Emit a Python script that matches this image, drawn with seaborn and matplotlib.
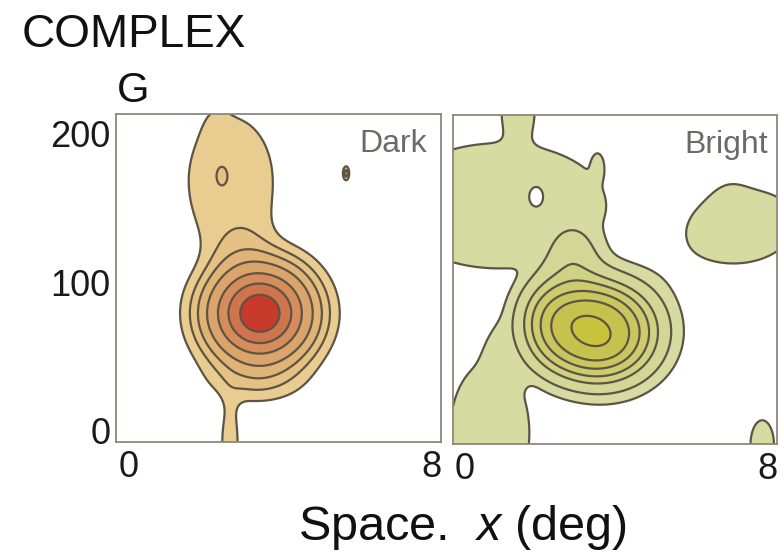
import numpy as np
import matplotlib
matplotlib.use("Agg")
import matplotlib.pyplot as plt
import seaborn as sns

sns.set_theme(style="white")
plt.rcParams["font.family"] = ["Liberation Sans", "DejaVu Sans"]
plt.rcParams["mathtext.fontset"] = "custom"
plt.rcParams["mathtext.it"] = "Liberation Sans:italic"
plt.rcParams["mathtext.rm"] = "Liberation Sans"

# Response components of each space-time map:
# centre (deg, ms), spread (deg, ms), tilt (deg), profile exponent, amplitude,
# and whether the component belongs to the low plateau (merged with the peak, not added)
dark_cx    = [3.47, 3.30, 2.70, 2.30, 2.47, 5.74, 2.68]
dark_cy    = [79.0, 30.0, 168.0, 205.0, 171.0, 173.0, -8.0]
dark_sx    = [0.98, 1.10, 1.00, 0.25, 0.13, 0.07, 0.20]
dark_sy    = [23.5, 12.0, 38.0, 12.0, 5.5, 4.0, 18.0]
dark_tilt  = [0, 0, 0, 0, 0, 0, 0]
dark_pow   = [1, 1, 2, 1, 1, 1, 1]
dark_amp   = [1.00, 0.08, 0.145, 0.04, 0.045, 0.20, 0.163]
dark_plateau = [False] * 7
dark_levels = [0.10, 0.17, 0.25, 0.365, 0.53, 0.70, 0.87]
dark_fill = ["#E9CC8F", "#E5C283", "#E0B476", "#DBA46A", "#D58E5B", "#CF744C", "#C83A2C"]

bright_cx   = [3.33, 3.33, 4.60, 2.10, 2.85, 0.90, 2.60, 1.35, 0.65, 3.50, 1.40,
               1.875, 7.30, 6.98, 7.85]
bright_cy   = [68.0, 68.0, 80.0, 80.0, 125.0, 152.0, 120.0, 55.0, 0.0, 178.0, 215.0,
               158.0, 138.0, 158.0, -8.0]
bright_sx   = [1.10, 0.45, 0.90, 0.55, 0.55, 2.70, 1.00, 1.10, 1.00, 0.22, 0.60,
               0.14, 1.45, 0.35, 0.32]
bright_sy   = [23.0, 7.0, 24.0, 25.0, 16.0, 40.0, 22.0, 20.0, 45.0, 12.0, 30.0,
               5.0, 24.5, 12.0, 17.0]
bright_tilt = [-15, -30, 0, 0, 0, 0, 0, 63, 0, 0, 0, 0, 8, 0, 0]
bright_pow  = [1, 1, 1, 1, 1, 2, 2, 2, 2, 1, 1, 1, 1.5, 1, 1]
bright_amp  = [0.90, 0.15, 0.08, 0.10, 0.19, 0.135, 0.13, 0.13, 0.135, 0.13, 0.13,
               -0.08, 0.14, 0.03, 0.16]
bright_plateau = [False, False, False, False, False, True, True, True, True, True, True,
                  False, False, False, True]
bright_levels = [0.10, 0.18, 0.30, 0.40, 0.52, 0.66, 0.92]
bright_fill = ["#D6DBA2", "#D3D795", "#CFD282", "#CCCC6F", "#C9C65D", "#C7C24E", "#C9C23C"]

x_ticks = [0, 8]
y_ticks = [0, 100, 200]
MS_PER_DEG = 25.0
MERGE_POWER = 5.0

xlim = (-0.32, 8.24)
ylim = (-7.4, 212.8)


def response_map(cx, cy, sx, sy, tilt, power, amp, plateau, X, Y):
    peak = np.zeros_like(X)
    flat = np.zeros_like(X)
    dips = np.zeros_like(X)
    for x0, y0, sxi, syi, t, p, a, merge in zip(cx, cy, sx, sy, tilt, power, amp, plateau):
        u = X - x0
        v = (Y - y0) / MS_PER_DEG
        th = np.radians(t)
        ur = u * np.cos(th) + v * np.sin(th)
        vr = -u * np.sin(th) + v * np.cos(th)
        q = (ur / sxi) ** 2 + (vr / (syi / MS_PER_DEG)) ** 2
        f = a * np.exp(-(q / 2.0) ** p)
        if a < 0:
            dips += f
        elif merge:
            flat += f ** MERGE_POWER
        else:
            peak += f
    return (peak ** MERGE_POWER + flat) ** (1.0 / MERGE_POWER) + dips


xs = np.linspace(xlim[0], xlim[1], 420)
ys = np.linspace(ylim[0], ylim[1], 420)
X, Y = np.meshgrid(xs, ys)

Z_dark = response_map(dark_cx, dark_cy, dark_sx, dark_sy, dark_tilt, dark_pow, dark_amp,
                      dark_plateau, X, Y)
Z_bright = response_map(bright_cx, bright_cy, bright_sx, bright_sy, bright_tilt, bright_pow,
                        bright_amp, bright_plateau, X, Y)

fig = plt.figure(figsize=(7.81, 5.52), dpi=100)
ax_d = fig.add_axes([116 / 781, 1 - 442 / 552, 325 / 781, 328 / 552])
ax_b = fig.add_axes([453 / 781, 1 - 444 / 552, 324 / 781, 329 / 552])

line_col = "#5E5444"
for ax, Z, levels, fills, label, lx in [
    (ax_d, Z_dark, dark_levels, dark_fill, "Dark", 0.957),
    (ax_b, Z_bright, bright_levels, bright_fill, "Bright", 0.972),
]:
    ax.set_facecolor("white")
    ax.contourf(X, Y, Z, levels=levels + [max(Z.max(), levels[-1]) + 1.0], colors=fills)
    ax.contour(X, Y, Z, levels=levels, colors=line_col, linewidths=1.6)
    ax.set_xlim(*xlim)
    ax.set_ylim(*ylim)
    ax.set_xticks(x_ticks)
    ax.set_xticklabels([str(v) for v in x_ticks])
    ax.tick_params(axis="both", length=0, labelsize=26, colors="#1a1a1a")
    ax.tick_params(axis="x", pad=6)
    ax.tick_params(axis="y", pad=4)
    for s in ax.spines.values():
        s.set_visible(True)
        s.set_color("#8E8878")
        s.set_linewidth(1.3)
    ax.grid(False)
    ax.text(lx, 0.955, label, transform=ax.transAxes, ha="right", va="top",
            fontsize=23, color="#6B6B66")

ax_d.set_yticks(y_ticks)
ax_d.set_yticklabels([str(v) for v in y_ticks])
ax_b.set_yticks([])

fig.text(22 / 781, 1 - 47 / 552, "COMPLEX", fontsize=33, va="baseline", ha="left", color="#111111")
fig.text(117 / 781, 1 - 102 / 552, "G", fontsize=30, va="baseline", ha="left", color="#111111")
fig.text(462 / 781, 1 - 540 / 552, "Space.  $x$ (deg)", fontsize=35, va="baseline", ha="center",
         color="#111111")

fig.savefig("out.png", dpi=100)
